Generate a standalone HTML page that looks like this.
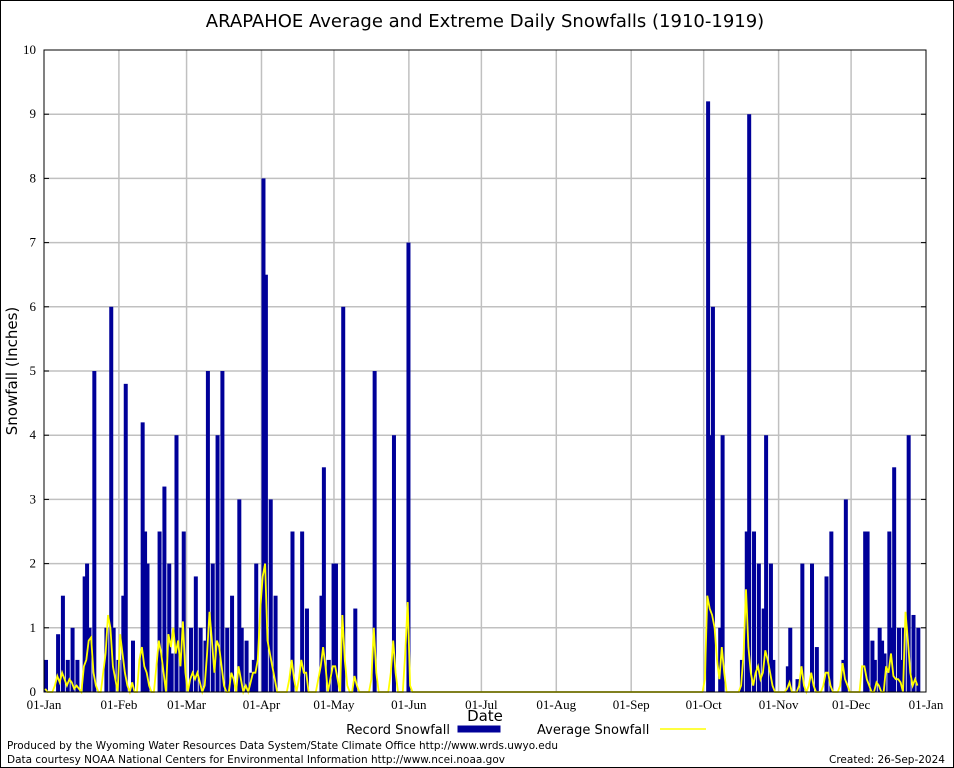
<!DOCTYPE html>
<html><head><meta charset="utf-8"><style>
html,body{margin:0;padding:0;background:#fff}
svg{display:block}
text{font-family:"DejaVu Sans","Liberation Sans",sans-serif}
.tk{font-family:"Liberation Serif",serif;font-size:13px}
</style></head><body>
<svg id="chart" width="954" height="768" xmlns="http://www.w3.org/2000/svg">
<rect x="0.5" y="0.5" width="953" height="767" fill="#fff" stroke="#000"/>
<text x="485" y="27" font-size="18" text-anchor="middle">ARAPAHOE Average and Extreme Daily Snowfalls (1910-1919)</text>
<text transform="translate(17,371) rotate(-90)" font-size="15" text-anchor="middle">Snowfall (Inches)</text>
<text x="485" y="721" font-size="15" text-anchor="middle">Date</text>
<g id="grid"></g><g id="bars"></g><g id="avg"></g><g id="axes"></g>
<g>
<text x="450" y="734" font-size="13" text-anchor="end">Record Snowfall</text>
<rect x="458" y="726" width="42" height="6" fill="#000099" stroke="#000099"/>
<text x="537" y="734" font-size="13">Average Snowfall</text>
<line x1="660" y1="729" x2="706" y2="729" stroke="#ffff00" stroke-width="1.5"/>
</g>
<text x="7" y="749" font-size="11" textLength="551" lengthAdjust="spacingAndGlyphs">Produced by the Wyoming Water Resources Data System/State Climate Office http://www.wrds.uwyo.edu</text>
<text x="7" y="763" font-size="11" textLength="498" lengthAdjust="spacingAndGlyphs">Data courtesy NOAA National Centers for Environmental Information http://www.ncei.noaa.gov</text>
<text x="945" y="763" font-size="11" text-anchor="end" textLength="116" lengthAdjust="spacingAndGlyphs">Created:  26-Sep-2024</text>
</svg>
<script>
const monthLabels=["01-Jan","01-Feb","01-Mar","01-Apr","01-May","01-Jun","01-Jul","01-Aug","01-Sep","01-Oct","01-Nov","01-Dec","01-Jan"];
const monthDays=[0,31,59,90,120,151,181,212,243,273,304,334,365];
const yTicks=[0,1,2,3,4,5,6,7,8,9,10];
const recordDays=[0,5,7,9,11,13,16,17,18,20,25,27,28,30,32,33,36,40,41,42,47,49,51,52,54,56,57,60,62,64,66,67,69,71,73,75,77,80,81,83,85,86,87,90,91,93,95,102,106,108,114,115,117,119,120,123,128,136,144,150,274,275,276,279,280,288,290,291,293,295,297,298,300,301,307,308,311,313,317,319,323,325,330,331,339,340,342,343,345,346,347,349,350,351,353,354,355,357,359,361];
const recordVals=[0.5,0.9,1.5,0.5,1.0,0.5,1.8,2.0,1.0,5.0,1.0,6.0,1.0,0.5,1.5,4.8,0.8,4.2,2.5,2.0,2.5,3.2,2.0,0.6,4.0,1.0,2.5,1.0,1.8,1.0,0.8,5.0,2.0,4.0,5.0,1.0,1.5,3.0,1.0,0.8,0.3,0.5,2.0,8.0,6.5,3.0,1.5,2.5,2.5,1.3,1.5,3.5,0.5,2.0,2.0,6.0,1.3,5.0,4.0,7.0,9.2,4.0,6.0,1.0,4.0,0.5,2.5,9.0,2.5,2.0,1.3,4.0,2.0,0.5,0.4,1.0,0.2,2.0,2.0,0.7,1.8,2.5,0.5,3.0,2.5,2.5,0.8,0.5,1.0,0.8,0.6,2.5,1.0,3.5,1.0,0.5,1.0,4.0,1.2,1.0];
const avgDays=[0,4,5,6,7,8,9,10,11,12,13,14,16,17,18,19,20,21,24,25,26,27,28,29,31,32,33,34,36,39,40,41,42,43,46,47,48,49,51,52,53,54,55,56,57,58,60,61,62,63,64,66,67,68,69,70,71,72,73,74,77,78,80,81,83,85,86,87,88,89,90,91,92,93,94,95,101,102,103,105,106,107,108,113,114,115,116,118,119,120,121,123,124,125,128,129,135,136,137,143,144,145,149,150,151,273,274,275,276,277,278,279,280,281,288,289,290,291,292,293,294,295,296,297,298,299,300,301,307,308,312,313,314,316,317,318,322,323,324,325,329,330,331,332,338,339,340,341,344,345,348,349,350,351,352,353,354,356,357,358,359,360,361,362];
const avgVals=[0.05,0.1,0.25,0.15,0.3,0.2,0.1,0.2,0.15,0.05,0.1,0.05,0.4,0.5,0.8,0.85,0.3,0.1,0.3,0.6,1.2,1.0,0.4,0.2,0.9,0.6,0.3,0.1,0.15,0.5,0.7,0.4,0.3,0.1,0.4,0.8,0.6,0.3,0.9,0.7,1.0,0.6,0.8,0.4,1.1,0.3,0.2,0.3,0.2,0.3,0.15,0.1,0.6,1.25,0.8,0.3,0.8,0.7,0.4,0.1,0.3,0.2,0.4,0.2,0.1,0.15,0.3,0.3,0.5,1.3,1.8,2.0,0.8,0.6,0.4,0.2,0.2,0.5,0.2,0.2,0.5,0.3,0.3,0.2,0.4,0.7,0.4,0.2,0.4,0.4,0.2,1.2,0.5,0.1,0.25,0.1,0.2,1.0,0.3,0.3,0.8,0.3,0.6,1.4,0.1,0.2,1.5,1.3,1.2,1.0,0.5,0.2,0.7,0.3,0.1,0.6,1.6,0.7,0.3,0.1,0.3,0.4,0.2,0.3,0.65,0.5,0.3,0.1,0.05,0.15,0.1,0.4,0.1,0.1,0.3,0.1,0.1,0.3,0.3,0.1,0.1,0.45,0.2,0.1,0.4,0.4,0.2,0.1,0.15,0.1,0.4,0.3,0.6,0.25,0.2,0.2,0.15,1.25,0.8,0.3,0.1,0.2,0.1];
const L=44,R=926,T=50,B=692,D0=0,D1=365,YMAX=10;
const NS="http://www.w3.org/2000/svg";
function xS(d){return L+(d-D0)*(R-L)/(D1-D0);}
function yS(v){return B-v*(B-T)/YMAX;}
function mk(tag,attrs,parent){const e=document.createElementNS(NS,tag);for(const k in attrs)e.setAttribute(k,attrs[k]);parent.appendChild(e);return e;}
const grid=document.getElementById('grid'),bars=document.getElementById('bars'),avg=document.getElementById('avg'),axes=document.getElementById('axes');
yTicks.forEach(v=>{
  if(v>0&&v<YMAX){const g=mk('line',{x1:L,x2:R,y1:yS(v),y2:yS(v),stroke:'#c0c0c0','stroke-width':1.5},grid);
  
  }
  const t=mk('text',{x:L-8,y:yS(v)+4,'text-anchor':'end',class:'tk'},axes);t.textContent=v;
  
  
  mk('line',{x1:L,x2:L+5,y1:yS(v),y2:yS(v),stroke:'#000'},axes);
  mk('line',{x1:R-5,x2:R,y1:yS(v),y2:yS(v),stroke:'#000'},axes);
});
monthDays.forEach((d,i)=>{
  if(i>0&&i<monthDays.length-1){const g=mk('line',{x1:xS(d),x2:xS(d),y1:T,y2:B,stroke:'#c0c0c0','stroke-width':1.5},grid);
  
  }
  const t=mk('text',{x:xS(d),y:B+17,'text-anchor':'middle',class:'tk'},axes);t.textContent=monthLabels[i];
  
  
});
recordDays.forEach((d,i)=>{
  const r=mk('rect',{x:xS(d),y:yS(recordVals[i]),width:4,height:B-yS(recordVals[i]),fill:'#000099'},bars);
  
  
});
const full=new Array(366).fill(0);
avgDays.forEach((d,i)=>{full[d]=avgVals[i];});
let p='';
full.forEach((v,d)=>{p+=(d?'L':'M')+(xS(d)+1.2).toFixed(1)+','+yS(v).toFixed(1);});
const line=mk('path',{d:p,fill:'none',stroke:'#ffff00','stroke-width':1.8},avg);


const frame=mk('rect',{x:L,y:T,width:R-L,height:B-T,fill:'none',stroke:'#000'},axes);


</script>
</body></html>
